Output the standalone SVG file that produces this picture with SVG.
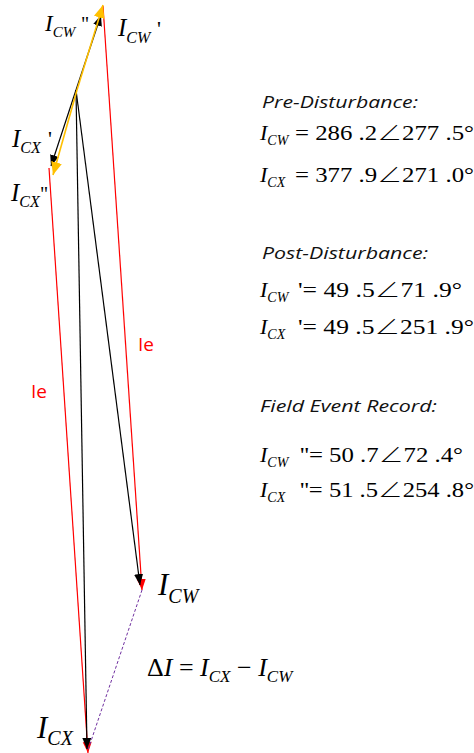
<svg xmlns="http://www.w3.org/2000/svg" width="474" height="753" viewBox="0 0 474 753">
<style>
.m{font-family:"Liberation Serif","Times New Roman",serif;fill:#000}
.i{font-style:italic}
.a{font-family:"Noto Sans CJK JP","DejaVu Sans",sans-serif;font-weight:300}
.h{font-family:"Open Sans","Liberation Sans",sans-serif;font-style:italic;font-size:17px;fill:#111}
.ie{font-family:"Open Sans","Liberation Sans",sans-serif;font-size:19px;fill:#ff0000}
.bk{stroke:#000;stroke-width:1.2;fill:none}
.rd{stroke:#ff0000;stroke-width:1.2;fill:none}
.or{stroke:#ffc000;stroke-width:1.6;fill:none}
.pu{stroke:#7030a0;stroke-width:1;stroke-dasharray:3 2;fill:none}
</style>
<defs>
<marker id="ab" markerUnits="userSpaceOnUse" markerWidth="12" markerHeight="10" refX="11" refY="4.5" orient="auto"><path d="M0,0 L11,4.5 L0,9 z" fill="#000"/></marker>
<marker id="ar" markerUnits="userSpaceOnUse" markerWidth="12" markerHeight="10" refX="11" refY="4.5" orient="auto"><path d="M0,0 L11,4.5 L0,9 z" fill="#ff0000"/></marker>
<marker id="ao" markerUnits="userSpaceOnUse" markerWidth="14" markerHeight="12" refX="13" refY="5.5" orient="auto"><path d="M0,0 L13,5.5 L0,11 z" fill="#ffc000"/></marker>
</defs>
<rect width="474" height="753" fill="#fff"/>
<g id="connectors">
<path class="rd" d="M103,6 L142,590" marker-end="url(#ar)"/>
<path class="rd" d="M49,168 L88,753" marker-end="url(#ar)"/>
<path class="pu" d="M142,590 L88,750"/>
<path class="bk" d="M76,90 L140,585" marker-end="url(#ab)"/>
<path class="bk" d="M76,90 L87,749" marker-end="url(#ab)"/>
<path class="bk" d="M76,90 L51,166" marker-end="url(#ab)"/>
<path class="bk" d="M76,90 L101,15" marker-end="url(#ab)"/>
<path class="or" d="M77,90 L103,5" marker-end="url(#ao)"/>
<path class="or" d="M77,90 L53,175" marker-end="url(#ao)"/>
</g>
<g id="label-icw2"><text class="m i" x="45" y="31" font-size="23">I<tspan font-size="15" dy="6">CW</tspan></text><text class="m" x="81" y="31" font-size="20">"</text></g>
<g id="label-icw1"><text class="m i" x="118" y="36" font-size="25">I<tspan font-size="16" dy="7">CW</tspan></text><text class="m" x="157" y="36" font-size="22">'</text></g>
<g id="label-icx1"><text class="m i" x="12" y="147" font-size="25">I<tspan font-size="16" dy="6">CX</tspan></text><text class="m" x="48" y="146" font-size="22">'</text></g>
<g id="label-icx2"><text class="m i" x="11" y="201" font-size="25">I<tspan font-size="16" dy="6">CX</tspan></text><text class="m" x="40" y="201" font-size="20">"</text></g>
<g id="label-ie1"><text class="ie" x="138" y="351">Ie</text></g>
<g id="label-ie2"><text class="ie" x="31" y="398">Ie</text></g>
<g id="label-icw"><text class="m i" x="158" y="595" font-size="31">I<tspan font-size="20" dy="8">CW</tspan></text></g>
<g id="label-icx"><text class="m i" x="37" y="738" font-size="31">I<tspan font-size="20" dy="7">CX</tspan></text></g>
<g id="label-delta"><text class="m" x="147" y="676" font-size="26">Δ<tspan class="i">I</tspan> = <tspan class="i">I</tspan><tspan class="i" font-size="17" dy="6">CX</tspan><tspan dy="-6"> − </tspan><tspan class="i">I</tspan><tspan class="i" font-size="17" dy="6">CW</tspan></text></g>
<g id="pre">
<text class="h" x="262" y="108" textLength="156" lengthAdjust="spacingAndGlyphs">Pre-Disturbance:</text>
<text class="m i" x="260" y="140" font-size="22">I<tspan font-size="14" dy="5">CW</tspan></text>
<text class="m" x="295" y="140" font-size="22" textLength="179" lengthAdjust="spacingAndGlyphs">= 286 .2<tspan class="a">∠</tspan>277 .5°</text>
<text class="m i" x="260" y="182" font-size="22">I<tspan font-size="14" dy="5">CX</tspan></text>
<text class="m" x="295" y="182" font-size="22" textLength="179" lengthAdjust="spacingAndGlyphs">= 377 .9<tspan class="a">∠</tspan>271 .0°</text>
</g>
<g id="post">
<text class="h" x="262" y="259" textLength="166" lengthAdjust="spacingAndGlyphs">Post-Disturbance:</text>
<text class="m i" x="260" y="297" font-size="22">I<tspan font-size="14" dy="5">CW</tspan></text>
<text class="m" x="298" y="297" font-size="22" textLength="164" lengthAdjust="spacingAndGlyphs">'= 49 .5<tspan class="a">∠</tspan>71 .9°</text>
<text class="m i" x="260" y="334" font-size="22">I<tspan font-size="14" dy="5">CX</tspan></text>
<text class="m" x="298" y="334" font-size="22" textLength="176" lengthAdjust="spacingAndGlyphs">'= 49 .5<tspan class="a">∠</tspan>251 .9°</text>
</g>
<g id="field">
<text class="h" x="260" y="412" textLength="177" lengthAdjust="spacingAndGlyphs">Field Event Record:</text>
<text class="m i" x="260" y="462" font-size="22">I<tspan font-size="14" dy="5">CW</tspan></text>
<text class="m" x="300" y="462" font-size="22" textLength="163" lengthAdjust="spacingAndGlyphs">''= 50 .7<tspan class="a">∠</tspan>72 .4°</text>
<text class="m i" x="260" y="497" font-size="22">I<tspan font-size="14" dy="5">CX</tspan></text>
<text class="m" x="300" y="497" font-size="22" textLength="174" lengthAdjust="spacingAndGlyphs">''= 51 .5<tspan class="a">∠</tspan>254 .8°</text>
</g>
</svg>
